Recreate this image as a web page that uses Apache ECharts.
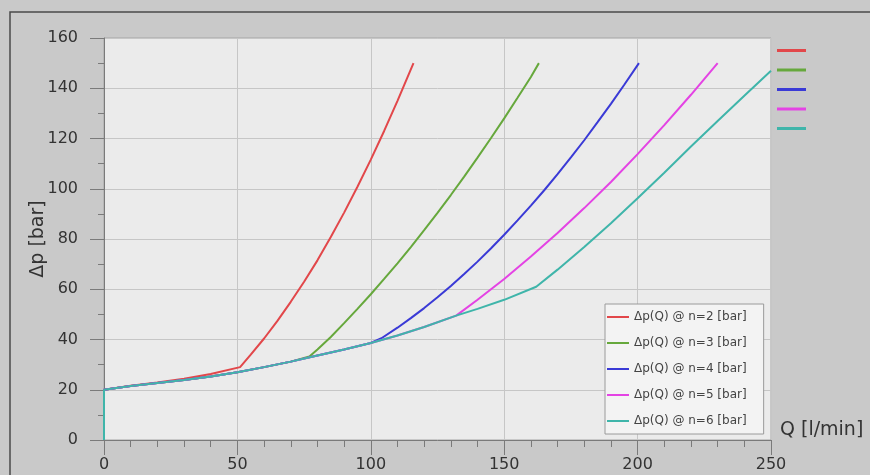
<!DOCTYPE html>
<html>
<head>
<meta charset="utf-8">
<script src="https://cdn.jsdelivr.net/npm/echarts@6/dist/echarts.min.js"></script>
<style>
html, body { margin: 0; padding: 0; background: #c9c9c9; }
#chart { width: 870px; height: 475px; }
</style>
</head>
<body>
<div id="chart"></div>
<script>
// [Q l/min, dp bar]
var n2 = [[0, 0], [0, 20], [10, 21.6], [20, 22.9], [30, 24.4], [40, 26.3], [51, 29], [55, 34], [60, 40.4], [65, 47.4], [70, 55], [75, 63], [80, 71.5], [85, 80.8], [90, 90.5], [95, 100.8], [100, 111.6], [105, 123], [110, 135], [116, 150]];
var n3 = [[0, 0], [0, 20], [10, 21.5], [20, 22.7], [30, 23.9], [40, 25.3], [50, 27], [60, 29], [70, 31.2], [77, 33.2], [80, 36], [85, 41], [90, 46.5], [95, 52.2], [100, 58], [105, 64.1], [110, 70.3], [115, 76.8], [120, 83.5], [125, 90.4], [130, 97.5], [135, 104.8], [140, 112.4], [145, 120.1], [150, 128], [155, 136.2], [160, 144.5], [163, 150]];
var n4 = [[0, 0], [0, 20], [10, 21.5], [20, 22.7], [30, 23.9], [40, 25.3], [50, 27], [60, 29], [70, 31.2], [80, 33.6], [90, 36], [100, 38.6], [104, 40.5], [110, 44.7], [115, 48.5], [120, 52.5], [125, 56.8], [130, 61.3], [135, 66.1], [140, 71], [145, 76.2], [150, 81.7], [155, 87.4], [160, 93.3], [165, 99.4], [170, 105.8], [175, 112.5], [180, 119.3], [185, 126.5], [190, 133.8], [195, 141.4], [200.5, 150]];
var n5 = [[0, 0], [0, 20], [10, 21.5], [20, 22.7], [30, 23.9], [40, 25.3], [50, 27], [60, 29], [70, 31.2], [80, 33.6], [90, 36], [100, 38.6], [110, 41.6], [120, 45], [132, 49.5], [140, 55.8], [150, 64.1], [160, 73], [170, 82.4], [180, 92.3], [190, 102.7], [200, 113.8], [210, 125.3], [220, 137.4], [230, 150]];
var n6 = [[0, 0], [0, 20], [10, 21.5], [20, 22.7], [30, 23.9], [40, 25.3], [50, 27], [60, 29], [70, 31.2], [80, 33.6], [90, 36], [100, 38.6], [110, 41.6], [120, 45], [132, 49.5], [140, 52.2], [150, 55.8], [162, 61], [170, 67.8], [180, 76.8], [190, 86.3], [200, 96.2], [210, 106.4], [220, 116.8], [230, 127], [240, 137], [250, 147]];

var names = ['Δp(Q) @ n=2 [bar]', 'Δp(Q) @ n=3 [bar]', 'Δp(Q) @ n=4 [bar]', 'Δp(Q) @ n=5 [bar]', 'Δp(Q) @ n=6 [bar]'];
var colors = ['#e2474a', '#66a83c', '#3a3ad6', '#e443e4', '#3fb5aa'];
var allData = [n2, n3, n4, n5, n6];

var myChart = echarts.init(document.getElementById('chart'));

var series = [];
for (var i = 0; i < allData.length; i++) {
	series.push({
		name: names[i],
		type: 'line',
		data: allData[i],
		showSymbol: false,
		lineStyle: { width: 2, color: colors[i] },
		itemStyle: { color: colors[i] },
		animation: false
	});
}

var axisText = { color: '#333', fontSize: 16, fontFamily: 'DejaVu Sans' };

var option = {
	backgroundColor: '#c9c9c9',
	color: colors,
	grid: {
		left: 104, right: 99, top: 38, bottom: 35,
		show: true,
		backgroundColor: '#ebebeb',
		borderColor: '#a5a5a5',
		borderWidth: 1
	},
	legend: [
		{
			data: names,
			orient: 'vertical',
			left: 605, top: 304,
			icon: 'rect',
			itemWidth: 22, itemHeight: 2,
			itemGap: 12,
			padding: [6, 17, 6, 2],
			backgroundColor: '#f3f3f3',
			borderColor: '#9a9a9a',
			borderWidth: 1,
			textStyle: { color: '#444', fontSize: 12, lineHeight: 14, fontFamily: 'DejaVu Sans' }
		},
		{
			data: names,
			orient: 'vertical',
			left: 777, top: 49,
			icon: 'rect',
			itemWidth: 29, itemHeight: 3,
			itemGap: 16.5,
			padding: 0,
			formatter: function () { return ''; },
			textStyle: { fontSize: 1, lineHeight: 1 }
		}
	],
	xAxis: {
		type: 'value',
		min: 0, max: 250, interval: 50,
		name: 'Q [l/min]',
		nameLocation: 'end',
		nameGap: 9,
		nameTextStyle: { color: '#333', fontSize: 19, fontFamily: 'DejaVu Sans', verticalAlign: 'bottom' },
		axisLine: { show: true, onZero: false, lineStyle: { color: '#7a7a7a', width: 1 } },
		axisTick: { show: true, length: 15, lineStyle: { color: '#7a7a7a' } },
		minorTick: { show: true, splitNumber: 5, length: 7, lineStyle: { color: '#7a7a7a' } },
		axisLabel: Object.assign({ margin: 17 }, axisText),
		splitLine: { show: true, lineStyle: { color: '#c6c6c6', width: 1 } }
	},
	yAxis: {
		type: 'value',
		min: 0, max: 160, interval: 20,
		name: 'Δp [bar]',
		nameLocation: 'middle',
		nameGap: 56,
		nameMoveOverlap: false,
		nameTextStyle: { color: '#333', fontSize: 19, fontFamily: 'DejaVu Sans' },
		axisLine: { show: true, onZero: false, lineStyle: { color: '#7a7a7a', width: 1 } },
		axisTick: { show: true, length: 14, lineStyle: { color: '#7a7a7a' } },
		minorTick: { show: true, splitNumber: 2, length: 6, lineStyle: { color: '#7a7a7a' } },
		axisLabel: Object.assign({ margin: 26 }, axisText),
		splitLine: { show: true, lineStyle: { color: '#c6c6c6', width: 1 } }
	},
	graphic: [
		{
			type: 'rect',
			shape: { x: 10, y: 12, width: 900, height: 500 },
			style: { fill: 'none', stroke: '#4a4a4a', lineWidth: 1.5 },
			silent: true
		}
	],
	series: series
};
//
myChart.setOption(option);
</script>
</body>
</html>
